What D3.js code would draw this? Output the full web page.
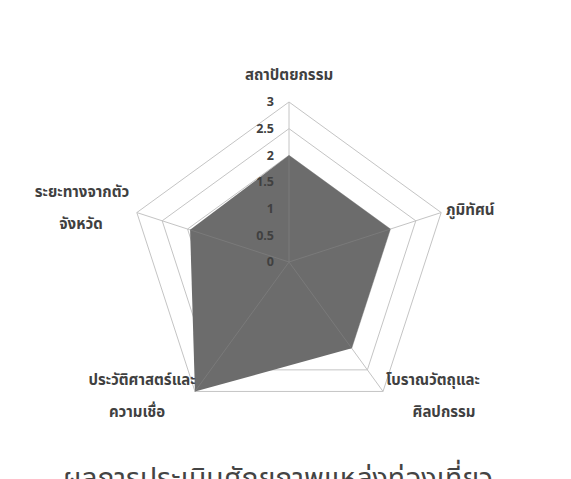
<!DOCTYPE html>
<html><head><meta charset="utf-8">
<script src="https://cdn.jsdelivr.net/npm/d3@7"></script>
<style>body{margin:0;background:#fff}svg{display:block}</style>
</head><body>
<script>
const categories = ["สถาปัตยกรรม","ภูมิทัศน์","โบราณวัตถุและศิลปกรรม","ประวัติศาสตร์และความเชื่อ","ระยะทางจากตัวจังหวัด"];
const labelLines = [["สถาปัตยกรรม"],["ภูมิทัศน์"],["โบราณวัตถุและ","ศิลปกรรม"],["ประวัติศาสตร์และ","ความเชื่อ"],["ระยะทางจากตัว","จังหวัด"]];
const values = [2, 2, 2, 3, 1.95];
const ticks = [0, 0.5, 1, 1.5, 2, 2.5, 3];
const tickLabels = ["0","0.5","1","1.5","2","2.5","3"];
const title = "ผลการประเมินศักยภาพแหล่งท่องเที่ยว";

const W = 571, H = 479, cx = 289, cy = 262;
const font = "Tahoma, 'Noto Sans Thai', 'Noto Sans', 'DejaVu Sans', sans-serif";
const svg = d3.select("body").append("svg").attr("width", W).attr("height", H);
const r = d3.scaleLinear().domain([0, 3]).range([0, 160]);
const ang = d3.scaleLinear().domain([0, categories.length]).range([0, 2 * Math.PI]);
const pt = (i, v) => [cx + r(v) * Math.sin(ang(i)), cy - r(v) * Math.cos(ang(i))];
const g = svg.append("g");

// rings
ticks.filter(t => t > 0).forEach(t => {
  g.append("polygon")
    .attr("points", categories.map((c, i) => pt(i, t).join(",")).join(" "))
    .attr("fill", "none").attr("stroke", "#c4c4c4").attr("stroke-width", 1);
});
// data polygon
g.append("polygon")
  .attr("points", values.map((v, i) => pt(i, v).join(",")).join(" "))
  .attr("fill", "#6c6c6c").attr("stroke", "none");
// axis spokes
categories.forEach((c, i) => {
  const [x, y] = pt(i, 3);
  const inside = Math.min(values[i], 3);
  const [xi, yi] = pt(i, inside);
  g.append("line").attr("x1", cx).attr("y1", cy).attr("x2", xi).attr("y2", yi)
    .attr("stroke", "#7a7a7a").attr("stroke-width", 1);
  g.append("line").attr("x1", xi).attr("y1", yi).attr("x2", x).attr("y2", y)
    .attr("stroke", "#c4c4c4").attr("stroke-width", 1);
});
// tick labels
g.selectAll("text.tick").data(ticks).enter().append("text")
  .attr("x", cx - 15).attr("y", d => cy - r(d)).attr("dy", "0.35em")
  .attr("text-anchor", "end").attr("font-family", font).attr("font-size", 12.5)
  .attr("font-weight", "bold").attr("fill", "#404040")
  .text((d, i) => tickLabels[i]);

// category labels
const labelPos = [
  {x: 289, y: 80, anchor: "middle", x2: 289},
  {x: 446, y: 215, anchor: "start"},
  {x: 433, y: 385, anchor: "middle", x2: 444},
  {x: 142, y: 385, anchor: "middle", x2: 137},
  {x: 82, y: 197, anchor: "middle", x2: 81}
];
labelLines.forEach((lines, i) => {
  const p = labelPos[i];
  lines.forEach((ln, j) => {
    svg.append("text")
      .attr("x", j === 0 ? p.x : p.x2).attr("y", p.y + j * 32)
      .attr("text-anchor", p.anchor).attr("font-family", font)
      .attr("font-size", 15).attr("font-weight", "bold").attr("fill", "#404040")
      .text(ln);
  });
});
// cut-off title (the reference shows only its upper part)
svg.append("text").attr("x", 278).attr("y", 488).attr("text-anchor", "middle")
  .attr("font-family", font).attr("font-size", 28).attr("fill", "#444")
  .attr("textLength", 430).attr("lengthAdjust", "spacingAndGlyphs")
  .text(title);
</script>
</body></html>
